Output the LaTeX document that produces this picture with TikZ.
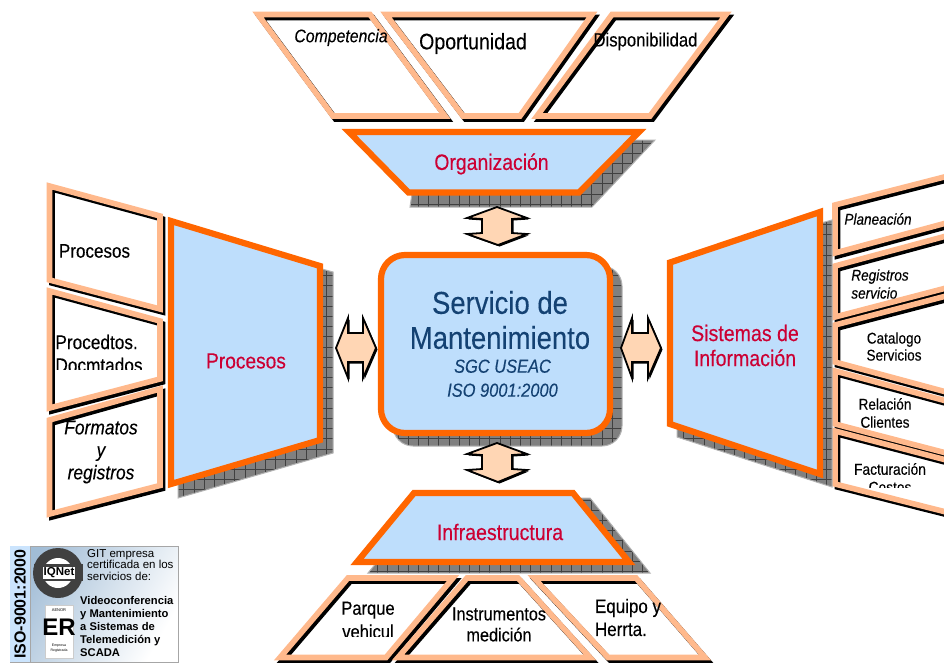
\documentclass[tikz,border=0pt]{standalone}
\usepackage{fontspec}
\setmainfont[FakeStretch=0.87,FakeBold=0.2]{Liberation Sans}
\newfontfamily\logofont{Liberation Sans}
\usetikzlibrary{positioning, calc}
\definecolor{gestorange}{RGB}{255, 102, 0}
\definecolor{gestpeach}{RGB}{255, 185, 140}
\definecolor{gestblue}{RGB}{190, 222, 252}
\definecolor{gestred}{RGB}{204, 0, 51}
\definecolor{gestnavy}{RGB}{20, 66, 115}
\definecolor{gestarrow}{RGB}{255, 214, 180}
\definecolor{gestshade}{RGB}{128, 128, 128}
\tikzset{
  coreshape/.style={draw=gestorange, fill=gestblue, line width=6.2pt, miter limit=20},
  shadeshape/.style={fill=gestshade, draw=gestshade!60, line width=1pt,
    path picture={\draw[black!75, line width=.5pt, step=10.2pt]
      (path picture bounding box.south west) grid (path picture bounding box.north east);}},
  paneltext/.style={inner sep=0pt, align=center, text=black},
  coretext/.style={inner sep=0pt, align=center, text=gestred},
}
\newcommand{\fsz}[1]{\fontsize{#1}{1.3\dimexpr#1pt\relax}\selectfont}
\newcommand{\panelshape}[1]{
  \fill[white] #1 -- cycle;
  \draw[black, line width=5.6pt, miter limit=20, shift={(2.5pt,-3pt)}] #1 -- cycle;
  \draw[gestpeach, line width=5.6pt, miter limit=20] #1 -- cycle;
}
\newcommand{\blockarrow}[1]{
  \fill[black, shift={(1.5pt,-1.5pt)}] #1 -- cycle;
  \draw[black, fill=gestarrow, line width=1.8pt, miter limit=6] #1 -- cycle;
}

\begin{document}
\begin{tikzpicture}[x=1pt, y=-1pt]
  \useasboundingbox (0,0) rectangle (944,662);
  \fill[white] (0,0) rectangle (944,662);

  % top panels
  \panelshape{(258,14.5) -- (370,14.5) -- (445,116) -- (333,116)}
  \panelshape{(386,14.5) -- (592,14.5) -- (520,116) -- (463,116)}
  \panelshape{(612,14.5) -- (726,14.5) -- (650,116) -- (537,116)}
  \node[paneltext, font=\fsz{18.2}\itshape] (competencia) at (341,37.5) {Competencia};
  \node[paneltext, font=\fsz{22.5}] (oportunidad) at (473,43.5) {Oportunidad};
  \node[paneltext, font=\fsz{19.2}] (disponibilidad) at (645.5,41.5) {Disponibilidad};

  % left panels
  \panelshape{(49.5,186) -- (160,216) -- (160,309) -- (49.5,280)}
  \panelshape{(49.5,291) -- (160,321) -- (160,379) -- (49.5,408)}
  \panelshape{(49.5,420) -- (160,389) -- (160,485.5) -- (49.5,514)}
  \node[paneltext, font=\fsz{19.6}] (procesosa) at (94.5,251) {Procesos};
  \begin{scope}
    \clip (50,320) rectangle (160,369);
    \node[paneltext, align=left, font=\fontsize{19.8}{23}\selectfont] (procedtos) at (99,353.5) {Procedtos.\\Docmtados};
  \end{scope}
  \node[paneltext, font=\fontsize{20}{22.5}\selectfont\itshape] (formatos) at (101,452) {Formatos\\y\\registros};

  % right panels
  \panelshape{(835,205) -- (950,175.5) -- (950,222) -- (835,253)}
  \panelshape{(835,266) -- (950,235) -- (950,287) -- (835,317)}
  \panelshape{(835,325) -- (950,295) -- (950,393) -- (835,362)}
  \panelshape{(835,371) -- (950,402) -- (950,454) -- (835,424)}
  \panelshape{(835,431) -- (950,461) -- (950,513) -- (835,484)}
  \node[paneltext, font=\fsz{15.6}\itshape] (planeacion) at (878,219) {Planeación};
  \begin{scope}
    \clip (840,260) rectangle (930,298);
    \node[paneltext, align=left, font=\fontsize{15.6}{18}\selectfont\itshape] (registrosb) at (880,284) {Registros\\servicio};
  \end{scope}
  \node[paneltext, font=\fontsize{15.6}{17}\selectfont] (catalogo) at (894,346.5) {Catalogo\\Servicios};
  \begin{scope}
    \clip (840,390) rectangle (940,427);
    \node[paneltext, font=\fontsize{15.6}{18}\selectfont] (relacion) at (885,413) {Relación\\Clientes};
  \end{scope}
  \begin{scope}
    \clip (840,450) rectangle (940,487);
    \node[paneltext, font=\fontsize{15.8}{18}\selectfont] (facturacion) at (890,478) {Facturación\\Costos};
  \end{scope}

  % bottom panels
  \panelshape{(348,578) -- (453,578) -- (386,657.5) -- (280,657.5)}
  \panelshape{(467,578) -- (518,578) -- (590,657.5) -- (398,657.5)}
  \panelshape{(534,578) -- (636,578) -- (705,657.5) -- (608,657.5)}
  \begin{scope}
    \clip (330,590) rectangle (410,636);
    \node[paneltext, font=\fontsize{19}{23.5}\selectfont] (parque) at (368,620) {Parque\\vehicul};
  \end{scope}
  \node[paneltext, font=\fontsize{18.7}{21}\selectfont] (instrumentos) at (499,624.5) {Instrumentos\\medición};
  \node[paneltext, align=left, font=\fontsize{19.5}{23}\selectfont] (equipo) at (628,617.5) {Equipo y\\Herrta.};

  % shadows
  \path[shadeshape] (420,140) -- (655,140) -- (592,207) -- (410,207) -- cycle;
  \path[shadeshape] (178,230) -- (333,272) -- (333,453) -- (178,498) -- cycle;
  \path[shadeshape] (677,262) -- (832,220) -- (832,487) -- (677,437) -- cycle;
  \path[shadeshape] (430,498) -- (590,498) -- (650,573) -- (368,573) -- cycle;
  \path[shadeshape, rounded corners=20pt] (393,266) rectangle (622,446);

  % central blocks
  \draw[coreshape] (349,132) -- (639,132) -- (579,192.5) -- (408.5,192.5) -- cycle;
  \draw[coreshape] (171,221) -- (320,266) -- (320,440) -- (171,484) -- cycle;
  \draw[coreshape] (670,262.5) -- (820,212) -- (820,474) -- (670,424) -- cycle;
  \draw[coreshape] (414,493) -- (573,493) -- (629,562) -- (357,562) -- cycle;
  \draw[coreshape, rounded corners=24pt] (381,255) rectangle (610,433);

  \node[coretext, font=\fsz{22.3}] (organizacion) at (491.5,164) {Organización};
  \node[coretext, font=\fsz{22}] (procesosb) at (246,361) {Procesos};
  \node[coretext, font=\fontsize{22.5}{25}\selectfont] (sistemas) at (745,345.5) {Sistemas de\\Información};
  \node[coretext, font=\fsz{22.5}] (infraestructura) at (500,532) {Infraestructura};
  \node[inner sep=0pt, align=center, text=gestnavy, font=\fontsize{31.6}{35}\selectfont] (servicio) at (500,320) {Servicio de\\Mantenimiento};
  \node[inner sep=0pt, align=center, text=gestnavy, font=\fontsize{18.9}{24}\selectfont\itshape, below=10pt of servicio, xshift=2.5pt] (sgc) {SGC USEAC\\ISO 9001:2000};

  % double arrows
  \blockarrow{(497,207) -- (527,218) -- (512,219) -- (512,233) -- (527,234) -- (498,245) -- (467,234) -- (482,233) -- (482,219) -- (467,218)}
  \blockarrow{(497,443) -- (527,454) -- (512,455) -- (512,469) -- (527,470) -- (498,482) -- (467,470) -- (482,469) -- (482,455) -- (467,454)}
  \blockarrow{(336,348) -- (348,318) -- (348,333) -- (363,333) -- (363,318) -- (376,348) -- (363,378) -- (363,362) -- (348,362) -- (348,378)}
  \blockarrow{(621,348) -- (632,318) -- (632,333) -- (648,333) -- (648,318) -- (661,348) -- (648,378) -- (648,362) -- (632,362) -- (632,378)}

  % certificate
  \draw[gray!70, line width=1pt, left color=gestblue!85!black, right color=white, shading angle=60] (10,546) rectangle (178,662);
  \fill[gestblue!80!white] (10,546) rectangle (30,662);
  \draw[gray!70, line width=1pt] (30,546) -- (30,662);
  \node[rotate=90, inner sep=0pt, font=\logofont\fsz{16}\bfseries] (isoside) at (20,604) {ISO-9001:2000};
  \fill[black!75] (58,573) circle (25);
  \fill[white] (58,573) circle (15);
  \fill[black!75] (33.5,564) rectangle (82.5,581);
  \node[fill=white, inner sep=1pt, font=\logofont\fsz{11.5}\bfseries] (iqnet) at (59,573) {IQNet};
  \draw[gray!40, fill=white] (45,605) rectangle (73,658);
  \node[inner sep=0pt, font=\logofont\fsz{4}] (aenor) at (59,610) {AENOR};
  \node[inner sep=0pt, font=\logofont\fsz{24}\bfseries] (er) at (59,627) {ER};
  \node[inner sep=0pt, align=center, font=\logofont\fontsize{3.5}{4.5}\selectfont] (empresa) at (59,648) {Empresa\\Registrada};
  \node[inner sep=0pt, align=left, anchor=north west, font=\logofont\fontsize{11.5}{11.5}\selectfont] (gittext) at (87,549) {GIT empresa\\certificada en los\\servicios de:};
  \node[inner sep=0pt, align=left, anchor=north west, font=\logofont\fontsize{11.2}{13}\selectfont\bfseries] (videotext) at (80,596) {Videoconferencia\\y Mantenimiento\\a Sistemas de\\Telemedición y\\SCADA};
\end{tikzpicture}
\end{document}
